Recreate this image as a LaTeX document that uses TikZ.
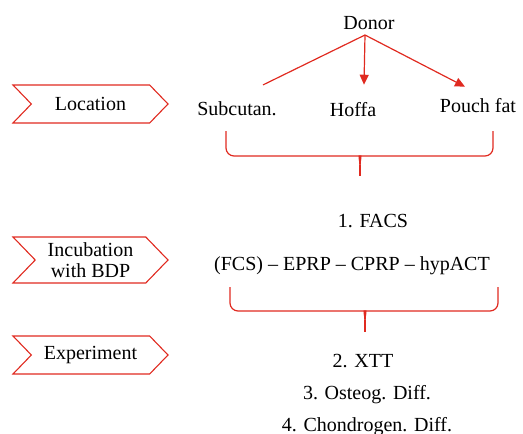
\documentclass[tikz,border=0pt]{standalone}
\usepackage{fontspec}
\setmainfont{Liberation Serif}
\usetikzlibrary{shapes.symbols, arrows.meta, positioning}
\definecolor{chevred}{RGB}{224,42,32}
\tikzset{
  words/.style={font=\fontsize{20}{21}\selectfont, inner sep=1pt, anchor=base}, % plain labels, placed at their baseline
  stage/.style={signal, signal from=west, signal to=east, signal pointer angle=92,
    draw=chevred, line width=1.1pt, inner sep=0pt, minimum width=155pt,
    align=center, font=\fontsize{20}{21}\selectfont}, % the chevrons on the left
  link/.style={draw=chevred, line width=1.2pt}, % lines from the donor
  bracket/.style={draw=chevred, line width=1.2pt, rounded corners=8pt}, % curly braces
  >={Triangle[length=10pt, width=9pt]},
}

\begin{document}
\begin{tikzpicture}[x=1pt, y=-1pt]
    \useasboundingbox (0,0) rectangle (523,434);

    % steps on the left
    \node[stage, minimum height=38pt] (loc) at (90.5,104) {Location};
    \node[stage, minimum height=46pt] (incub) at (90.5,260) {Incubation\\with BDP};
    \node[stage, minimum height=38pt] (exper) at (90.5,355) {Experiment};

    % source of the tissue
    \node[words] (donor) at (369,29) {Donor};
    \node[words] (subc) at (237,115) {Subcutan.};
    \node[words] (hoffa) at (353,116) {Hoffa};
    \node[words] (pouch) at (478,112) {Pouch fat};
    \coordinate (fork) at (365,35);
    \draw[link] (fork) -- ([xshift=26pt, yshift=15pt]subc.north);
    \draw[link, ->] (fork) -- ([xshift=11pt, yshift=16pt]hoffa.north);
    \draw[link, ->] (fork) -- ([xshift=-13pt, yshift=10pt]pouch.north);

    % brace below the tissues
    \coordinate (tipA) at (360,176);
    \draw[bracket] (226,131) |- (352,156) .. controls (358,156) and (360,160) .. (360,166);
    \draw[bracket] (493,131) |- (368,156) .. controls (362,156) and (360,160) .. (360,166);
    \draw[link] (360,165) -- (tipA);

    % cell populations
    \node[words] (facs) at (373,227) {1. FACS};
    \node[words] (chain) at (352,270) {(FCS) -- EPRP -- CPRP -- hypACT};

    % brace below the populations
    \coordinate (tipB) at (365,332);
    \draw[bracket] (230,287) |- (357,311) .. controls (363,311) and (365,315) .. (365,321);
    \draw[bracket] (498,287) |- (373,311) .. controls (367,311) and (365,315) .. (365,321);
    \draw[link] (365,320) -- (tipB);

    % experiments
    \node[words] (xtt) at (363,367) {2. XTT};
    \node[words] (osteo) at (367,399) {3. Osteog. Diff.};
    \node[words] (chondro) at (367,431) {4. Chondrogen. Diff.};
\end{tikzpicture}
\end{document}
